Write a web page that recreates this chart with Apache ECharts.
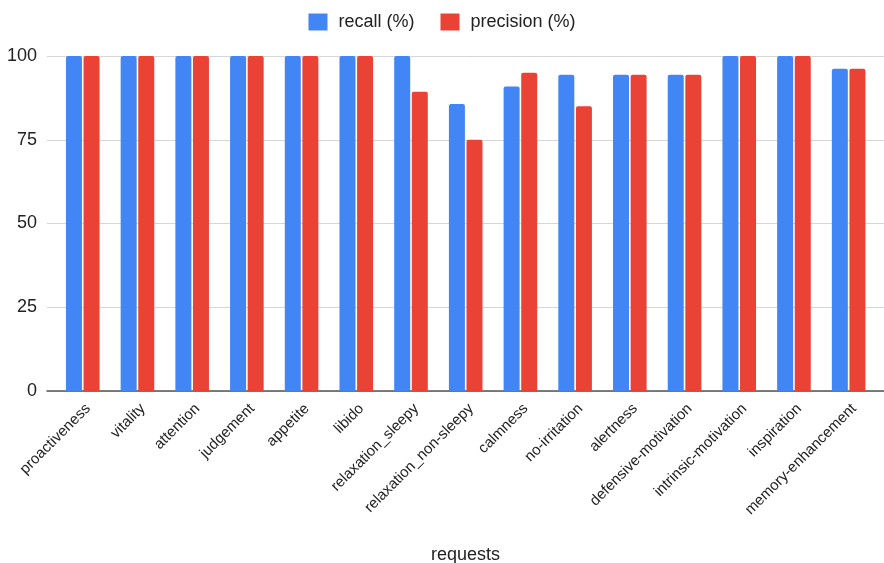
<!DOCTYPE html>
<html>
<head>
<meta charset="utf-8">
<script src="https://cdn.jsdelivr.net/npm/echarts@6/dist/echarts.min.js"></script>
<style>
  html, body { margin: 0; padding: 0; background: #fff; }
  #chart { width: 884px; height: 563px; }
</style>
</head>
<body>
<div id="chart"></div>
<script>
const categories = [
  'proactiveness', 'vitality', 'attention', 'judgement', 'appetite', 'libido',
  'relaxation_sleepy', 'relaxation_non-sleepy', 'calmness', 'no-irritation',
  'alertness', 'defensive-motivation', 'intrinsic-motivation', 'inspiration',
  'memory-enhancement'
];
const recall = [100, 100, 100, 100, 100, 100, 100, 85.7, 90.9, 94.4, 94.4, 94.4, 100, 100, 96.2];
const precision = [100, 100, 100, 100, 100, 100, 89.3, 75, 95, 85, 94.4, 94.4, 100, 100, 96.2];
const yTicks = [0, 25, 50, 75, 100];
const seriesNames = ['recall (%)', 'precision (%)'];
const axisTitle = 'requests';

const FONT = 'Arial, "Liberation Sans", sans-serif';
const chart = echarts.init(document.getElementById('chart'), null, { renderer: 'canvas' });

const plotTop = 56;
const plotBottom = 172;

chart.setOption({
  animation: false,
  textStyle: { fontFamily: FONT },
  legend: {
    data: seriesNames,
    top: 8,
    left: 'center',
    itemWidth: 19,
    itemHeight: 17,
    itemGap: 26,
    icon: 'rect',
    textStyle: { fontSize: 18, color: '#222', fontFamily: FONT, padding: [0, 0, 0, 6] }
  },
  grid: [
    // full-width frame: gridlines, y labels, baseline and axis title
    { left: 47, right: 0, top: plotTop, bottom: plotBottom, containLabel: false, outerBoundsMode: 'none' },
    // bar area
    { left: 55.4, right: 8, top: plotTop, bottom: plotBottom, containLabel: false, outerBoundsMode: 'none' }
  ],
  xAxis: [
    {
      gridIndex: 0,
      type: 'value',
      min: 0,
      max: 1,
      axisLine: { show: true, lineStyle: { color: '#555', width: 1.5 } },
      axisTick: { show: false },
      axisLabel: { show: false },
      splitLine: { show: false },
      name: axisTitle,
      nameLocation: 'middle',
      nameGap: 155,
      nameTextStyle: { fontSize: 18, color: '#222', fontFamily: FONT }
    },
    {
      gridIndex: 1,
      type: 'category',
      data: categories,
      axisLine: { show: false },
      axisTick: { show: false },
      axisLabel: {
        rotate: 45,
        interval: 0,
        margin: 10,
        align: 'right',
        verticalAlign: 'top',
        fontSize: 15,
        color: '#222',
        fontFamily: FONT
      }
    }
  ],
  yAxis: [
    {
      gridIndex: 0,
      type: 'value',
      min: yTicks[0],
      max: yTicks[yTicks.length - 1],
      interval: yTicks[1] - yTicks[0],
      axisLine: { show: false },
      axisTick: { show: false },
      axisLabel: { fontSize: 18, color: '#222', margin: 10, fontFamily: FONT },
      splitLine: { lineStyle: { color: '#d6d6d6', width: 1 } }
    },
    {
      gridIndex: 1,
      type: 'value',
      min: yTicks[0],
      max: yTicks[yTicks.length - 1],
      show: false,
      splitLine: { show: false }
    }
  ],
  series: [
    {
      name: seriesNames[0],
      type: 'bar',
      xAxisIndex: 1,
      yAxisIndex: 1,
      data: recall,
      barWidth: 16,
      barGap: '10%',
      itemStyle: { color: '#4285F4', borderRadius: [2, 2, 0, 0] }
    },
    {
      name: seriesNames[1],
      type: 'bar',
      xAxisIndex: 1,
      yAxisIndex: 1,
      data: precision,
      barWidth: 16,
      barGap: '10%',
      itemStyle: { color: '#EA4335', borderRadius: [2, 2, 0, 0] }
    }
  ]
});
</script>
</body>
</html>
